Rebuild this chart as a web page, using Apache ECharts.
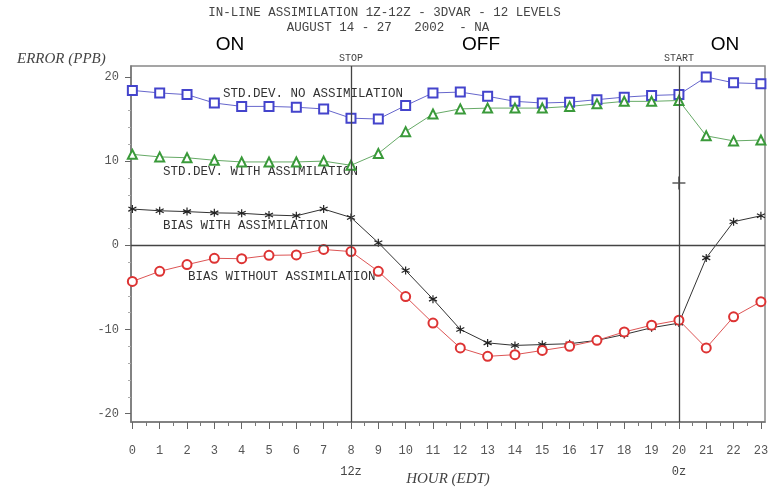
<!DOCTYPE html>
<html><head><meta charset="utf-8">
<script src="https://cdn.jsdelivr.net/npm/echarts@6/dist/echarts.min.js"></script>
<style>html,body{margin:0;padding:0;background:#fff}#c{width:769px;height:488px}</style>
</head><body><div id="c"></div>
<script>
const hours = [0,1,2,3,4,5,6,7,8,9,10,11,12,13,14,15,16,17,18,19,20,21,22,23];
const halfHours = [0.5,1.5,2.5,3.5,4.5,5.5,6.5,7.5,8.5,9.5,10.5,11.5,12.5,13.5,14.5,15.5,16.5,17.5,18.5,19.5,20.5,21.5,22.5];
const yMajorTicks = [-20,-10,0,10,20];
const yMinorTicks = [-18,-16,-14,-12,-8,-6,-4,-2,2,4,6,8,12,14,16,18];
const stdNoAssim   = [18.4,18.1,17.9,16.9,16.5,16.5,16.4,16.2,15.1,15.0,16.6,18.1,18.2,17.7,17.1,16.9,17.0,17.3,17.6,17.8,17.9,20.0,19.3,19.2];
const stdWithAssim = [10.8,10.5,10.4,10.1,9.9,9.9,9.9,10.0,9.5,10.9,13.5,15.6,16.2,16.3,16.3,16.3,16.5,16.8,17.1,17.1,17.2,13.0,12.4,12.5];
const biasWithAssim = [4.3,4.1,4.0,3.85,3.8,3.6,3.5,4.3,3.3,0.3,-3.0,-6.4,-10.0,-11.6,-11.9,-11.8,-11.7,-11.3,-10.6,-9.8,-9.25,-1.5,2.8,3.5];
const biasNoAssim  = [-4.3,-3.1,-2.3,-1.55,-1.6,-1.2,-1.15,-0.5,-0.75,-3.1,-6.1,-9.25,-12.2,-13.2,-13.0,-12.5,-12.0,-11.3,-10.3,-9.5,-8.9,-12.2,-8.5,-6.7];
const extraPoint = [[20, 7.4]];
const switchHours = [8, 20];
const switchTop = ['STOP', 'START'];
const switchBottom = ['12z', '0z'];
const titleLines = ['IN-LINE ASSIMILATION 1Z-12Z - 3DVAR - 12 LEVELS', 'AUGUST 14 - 27   2002  - NA'];

const pair = arr => hours.map((h, i) => [h, arr[i]]);
const mono = 'Liberation Mono, Courier New, monospace';
const XMIN = -0.05, XMAX = 23.15, YMIN = -21.0, YMAX = 21.3;
const star = 'path://M0,-5L0,5M-4.33,-2.5L4.33,2.5M-4.33,2.5L4.33,-2.5';
const plus = 'path://M0,-1L0,1M-1,0L1,0';

const chart = echarts.init(document.getElementById('c'));
const xBase = {type:'value', min:XMIN, max:XMAX, splitLine:{show:false}, gridIndex:0};
const yBase = {type:'value', min:YMIN, max:YMAX, splitLine:{show:false}, gridIndex:0};
chart.setOption({
  animation:false,
  backgroundColor:'#fff',
  grid:{left:131, right:4, top:66, bottom:66, outerBoundsMode:'none', containLabel:false,
    show:true, borderColor:'#888', borderWidth:1.5, backgroundColor:'transparent'},
  xAxis:[
    Object.assign({}, xBase, {position:'bottom',
      axisLine:{show:true, onZero:false, lineStyle:{color:'#777', width:1.5}},
      axisTick:{show:true, customValues:hours, length:7, lineStyle:{color:'#666'}},
      axisLabel:{customValues:hours, margin:23, color:'#555', fontFamily:mono, fontSize:12},
      name:'HOUR (EDT)', nameLocation:'middle', nameGap:50,
      nameTextStyle:{fontFamily:'Liberation Serif, serif', fontStyle:'italic', fontSize:15, color:'#444'}}),
    Object.assign({}, xBase, {position:'bottom',
      axisLine:{show:false, onZero:false},
      axisTick:{show:true, customValues:halfHours, length:4, lineStyle:{color:'#777'}},
      axisLabel:{show:false}}),
    Object.assign({}, xBase, {position:'bottom',
      axisLine:{show:false, onZero:false}, axisTick:{show:false},
      axisLabel:{customValues:switchHours, margin:44, color:'#444', fontFamily:mono, fontSize:12,
        formatter:v => switchBottom[switchHours.indexOf(v)] || ''}}),
    Object.assign({}, xBase, {position:'top',
      axisLine:{show:false, onZero:false}, axisTick:{show:false},
      axisLabel:{customValues:switchHours, margin:3, color:'#444', fontFamily:mono, fontSize:10,
        formatter:v => switchTop[switchHours.indexOf(v)] || ''}})
  ],
  yAxis:[
    Object.assign({}, yBase, {
      axisLine:{show:true, onZero:false, lineStyle:{color:'#777', width:1.5}},
      axisTick:{show:true, customValues:yMajorTicks, length:6, lineStyle:{color:'#666'}},
      axisLabel:{customValues:yMajorTicks, margin:12, color:'#555', fontFamily:mono, fontSize:12,
        formatter:v => v < 0 ? '-' + Math.abs(v) : String(v)}}),
    Object.assign({}, yBase, {position:'left',
      axisLine:{show:false, onZero:false},
      axisTick:{show:true, customValues:yMinorTicks, length:3, lineStyle:{color:'#aaa'}},
      axisLabel:{show:false}})
  ],
  graphic:[
    {type:'text', left:'center', top:6, style:{text:titleLines[0], font:'12.5px ' + mono, fill:'#444'}},
    {type:'text', x:388, y:21, style:{text:titleLines[1], font:'12.5px ' + mono, fill:'#444', textAlign:'center'}},
    {type:'text', x:230, y:45, style:{text:'ON', font:'19px Liberation Sans, Arial, sans-serif', fill:'#000', textAlign:'center', textVerticalAlign:'middle'}},
    {type:'text', x:481, y:45, style:{text:'OFF', font:'19px Liberation Sans, Arial, sans-serif', fill:'#000', textAlign:'center', textVerticalAlign:'middle'}},
    {type:'text', x:725, y:45, style:{text:'ON', font:'19px Liberation Sans, Arial, sans-serif', fill:'#000', textAlign:'center', textVerticalAlign:'middle'}},
    {type:'text', x:17, y:59, style:{text:'ERROR (PPB)', font:'italic 15px Liberation Serif, serif', fill:'#444', textVerticalAlign:'middle'}},
    {type:'text', x:223, y:94, style:{text:'STD.DEV. NO ASSIMILATION', font:'12.5px ' + mono, fill:'#333', textVerticalAlign:'middle'}},
    {type:'text', x:163, y:172, style:{text:'STD.DEV. WITH ASSIMILATION', font:'12.5px ' + mono, fill:'#333', textVerticalAlign:'middle'}},
    {type:'text', x:163, y:226, style:{text:'BIAS WITH ASSIMILATION', font:'12.5px ' + mono, fill:'#333', textVerticalAlign:'middle'}},
    {type:'text', x:188, y:277, style:{text:'BIAS WITHOUT ASSIMILATION', font:'12.5px ' + mono, fill:'#333', textVerticalAlign:'middle'}}
  ],
  series:[
    {type:'line', name:'ref', data:[], xAxisIndex:0, yAxisIndex:0, silent:true,
      markLine:{silent:true, symbol:'none', label:{show:false},
        lineStyle:{color:'#444', width:1.3, type:'solid'},
        data:[{xAxis:switchHours[0]}, {xAxis:switchHours[1]}, {yAxis:0}]}},
    {type:'line', name:'STD.DEV. NO ASSIMILATION', data:pair(stdNoAssim), symbol:'emptyRect', symbolSize:9,
      lineStyle:{color:'#6666cc', width:1}, itemStyle:{color:'#4444cc', borderColor:'#4444cc', borderWidth:1.2}},
    {type:'line', name:'STD.DEV. WITH ASSIMILATION', data:pair(stdWithAssim), symbol:'emptyTriangle', symbolSize:9,
      lineStyle:{color:'#66aa66', width:1}, itemStyle:{color:'#3a9a3a', borderColor:'#3a9a3a', borderWidth:1.2}},
    {type:'line', name:'BIAS WITH ASSIMILATION', data:pair(biasWithAssim), symbol:star, symbolSize:8,
      lineStyle:{color:'#333', width:1}, itemStyle:{color:'transparent', borderColor:'#222', borderWidth:1.2}},
    {type:'line', name:'BIAS WITHOUT ASSIMILATION', data:pair(biasNoAssim), symbol:'emptyCircle', symbolSize:9,
      lineStyle:{color:'#dd5555', width:1}, itemStyle:{color:'#dd3333', borderColor:'#dd3333', borderWidth:1.2}},
    {type:'scatter', data:extraPoint, symbol:plus, symbolSize:13,
      itemStyle:{color:'transparent', borderColor:'#333', borderWidth:1.5}}
  ]
});
</script></body></html>
